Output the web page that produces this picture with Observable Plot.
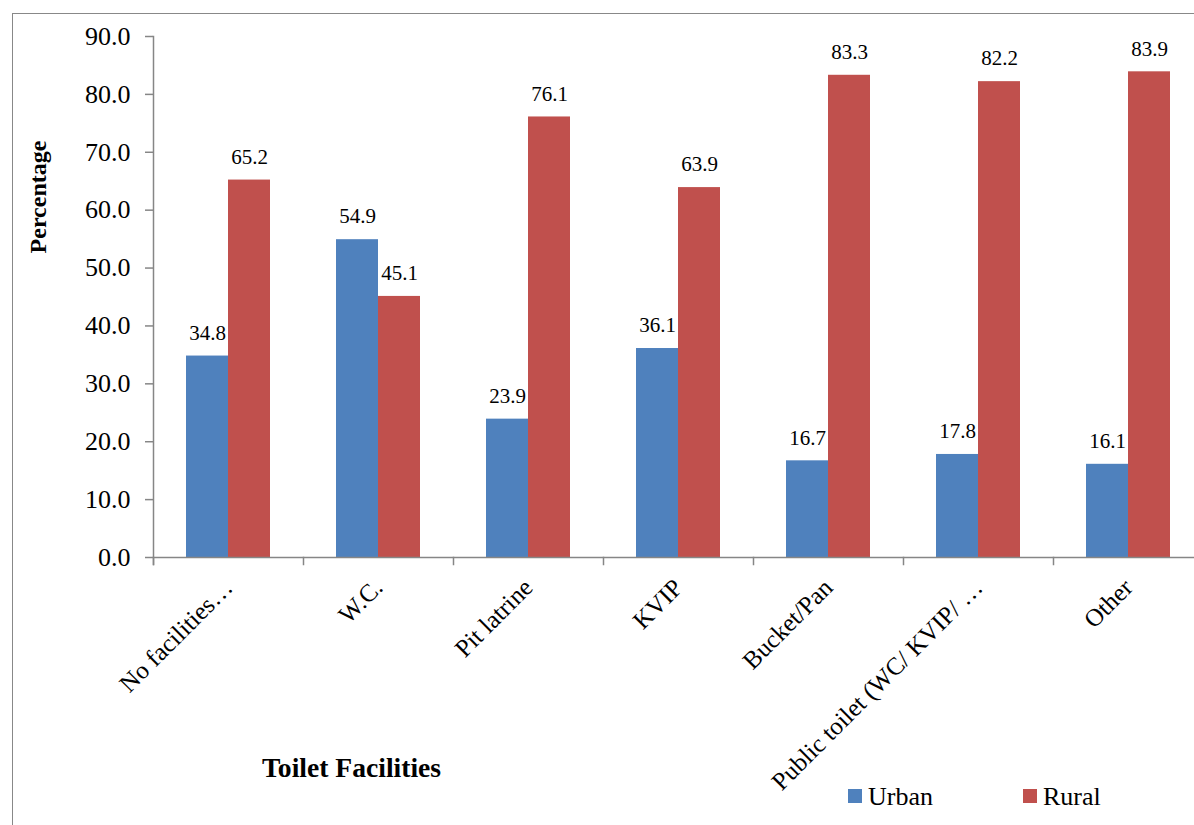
<!DOCTYPE html>
<html>
<head>
<meta charset="utf-8">
<script src="https://cdn.jsdelivr.net/npm/d3@7"></script>
<script src="https://cdn.jsdelivr.net/npm/@observablehq/plot@0.6"></script>
<style>
  html, body { margin: 0; padding: 0; background: #fff; overflow: hidden; }
  #wrap { position: relative; width: 1194px; height: 825px; overflow: hidden; font-family: 'Liberation Serif'; color: #000; }
  #wrap div, #chart svg, #chart svg text { font-family: 'Liberation Serif' !important; }
  #border { position: absolute; left: 12px; top: 13px; width: 1300px; height: 1000px; border: 1.5px solid #888; box-sizing: border-box; }
  #chart { position: absolute; left: 0; top: 0; }
  .ylab { position: absolute; left: 38px; top: 197px; transform: translate(-50%, -50%) rotate(-90deg); font-weight: bold; font-size: 24px; white-space: nowrap; line-height: normal; }
  .xlab { position: absolute; left: 262px; top: 752px; font-weight: bold; font-size: 27.6px; white-space: nowrap; line-height: normal; }
  .leg { position: absolute; font-size: 26px; line-height: normal; white-space: nowrap; top: 782px; }
  .sw { position: absolute; top: 789px; width: 14px; height: 14px; }
</style>
</head>
<body>
<div id="wrap">
  <div id="border"></div>
  <div id="chart"></div>
  <div class="ylab">Percentage</div>
  <div class="xlab">Toilet Facilities</div>
  <div id="legend"></div>
</div>
<script>
const categories = ["No facilities…", "W.C.", "Pit latrine", "KVIP", "Bucket/Pan", "Public toilet (WC/ KVIP/ …", "Other"];
const urban = [34.8, 54.9, 23.9, 36.1, 16.7, 17.8, 16.1];
const rural = [65.2, 45.1, 76.1, 63.9, 83.3, 82.2, 83.9];
const series = ["Urban", "Rural"];
const colors = ["#4F81BD", "#C0504D"];
const yTicks = [0, 10, 20, 30, 40, 50, 60, 70, 80, 90];

const data = [];
categories.forEach((c, i) => {
  data.push({category: c, series: "Urban", value: urban[i]});
  data.push({category: c, series: "Rural", value: rural[i]});
});

const W = 1194, H = 825, mT = 36, mB = 268, mL = 150, mR = -12;
const innerH = H - mT - mB;
const axisGray = "#868686";

const plot = Plot.plot({
  width: W,
  height: H,
  marginTop: mT,
  marginBottom: mB,
  marginLeft: mL,
  marginRight: mR,
  style: {fontFamily: "Liberation Serif", color: "#000", background: "transparent"},
  fx: {domain: categories, padding: 0, axis: null},
  x: {domain: series, paddingInner: 0, paddingOuter: 0.754, axis: null},
  y: {domain: [0, 90], axis: null},
  color: {domain: series, range: colors},
  marks: [
    Plot.barY(data, {fx: "category", x: "series", y: "value", fill: "series"}),
    Plot.text(data, {fx: "category", x: "series", y: "value", text: d => d.value.toFixed(1), dy: -23, fontSize: 21, fill: "#000"}),
    Plot.ruleY([0], {stroke: axisGray, strokeWidth: 1.5}),
    Plot.frame({anchor: "left", facetAnchor: "left", stroke: axisGray, strokeWidth: 1.5, insetBottom: -7}),
    Plot.frame({anchor: "left", stroke: axisGray, strokeWidth: 1.5, insetTop: innerH, insetBottom: -7}),
    Plot.axisY({ticks: yTicks, tickFormat: d3.format(".1f"), tickSize: 8, tickPadding: 15, fontSize: 26, stroke: axisGray, strokeWidth: 1.5, fill: "#000", label: null}),
    Plot.axisFx({anchor: "bottom", tickSize: 0, tickPadding: 26, tickRotate: -45, fontSize: 25, fill: "#000", label: null})
  ]
});
document.getElementById("chart").appendChild(plot);

// legend
const legend = document.getElementById("legend");
const legPos = [{sw: 848, tx: 868}, {sw: 1023, tx: 1043}];
series.forEach((s, i) => {
  const sw = document.createElement("div");
  sw.className = "sw";
  sw.style.left = legPos[i].sw + "px";
  sw.style.background = colors[i];
  legend.appendChild(sw);
  const t = document.createElement("div");
  t.className = "leg";
  t.style.left = legPos[i].tx + "px";
  t.textContent = s;
  legend.appendChild(t);
});
</script>
</body>
</html>
